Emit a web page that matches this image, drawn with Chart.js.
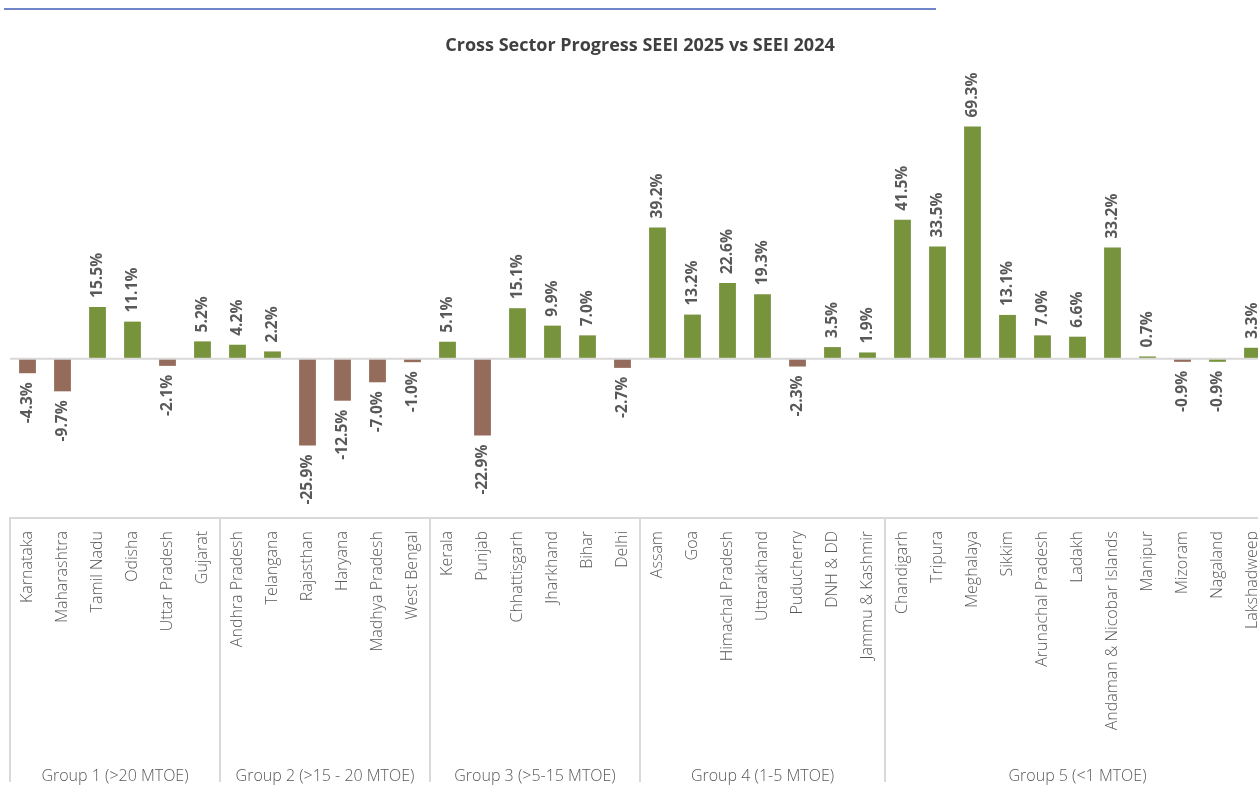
<!DOCTYPE html>
<html>
<head>
<meta charset="utf-8">
<script src="https://cdn.jsdelivr.net/npm/chart.js@4.4.1/dist/chart.umd.min.js"></script>
<style>
html, body { margin: 0; padding: 0; background: #fff; overflow: hidden; }
#topRule { position: absolute; left: 4px; top: 8px; width: 932px; height: 2px; background: #7085c8; }
#chart { position: absolute; left: 0; top: 0; }
</style>
</head>
<body>
<div id="topRule"></div>
<canvas id="chart" width="1270" height="787"></canvas>
<script>
// states in chart order, grouped by energy consumption
const states = [
    'Karnataka', 'Maharashtra', 'Tamil Nadu', 'Odisha', 'Uttar Pradesh', 'Gujarat',
    'Andhra Pradesh', 'Telangana', 'Rajasthan', 'Haryana', 'Madhya Pradesh', 'West Bengal',
    'Kerala', 'Punjab', 'Chhattisgarh', 'Jharkhand', 'Bihar', 'Delhi',
    'Assam', 'Goa', 'Himachal Pradesh', 'Uttarakhand', 'Puducherry', 'DNH & DD', 'Jammu & Kashmir',
    'Chandigarh', 'Tripura', 'Meghalaya', 'Sikkim', 'Arunachal Pradesh', 'Ladakh',
    'Andaman & Nicobar Islands', 'Manipur', 'Mizoram', 'Nagaland', 'Lakshadweep'
];

// % change SEEI 2025 vs SEEI 2024
const change = [
    -4.3, -9.7, 15.5, 11.1, -2.1, 5.2,
    4.2, 2.2, -25.9, -12.5, -7.0, -1.0,
    5.1, -22.9, 15.1, 9.9, 7.0, -2.7,
    39.2, 13.2, 22.6, 19.3, -2.3, 3.5, 1.9,
    41.5, 33.5, 69.3, 13.1, 7.0, 6.6,
    33.2, 0.7, -0.9, -0.9, 3.3
];

const groups = ['Group 1 (>20 MTOE)', 'Group 2 (>15 - 20 MTOE)', 'Group 3 (>5-15 MTOE)', 'Group 4 (1-5 MTOE)', 'Group 5 (<1 MTOE)'];
const groupSizes = [6, 6, 6, 7, 11];

// shown green in the source even though the value is negative
const greenNegatives = ['Nagaland'];

const GREEN = '#77933c';
const BROWN = '#956b5b';
const LINE = '#d9d9d9';
const TEXT = '#595959';

const barColors = change.map((v, i) =>
    (v >= 0 || greenNegatives.includes(states[i])) ? GREEN : BROWN);

const decorations = {
    id: 'decorations',
    afterDatasetsDraw(chart) {
        const { ctx, chartArea, scales: { x, y } } = chart;
        ctx.save();

        // zero line
        const zeroY = y.getPixelForValue(0);
        ctx.strokeStyle = LINE;
        ctx.lineWidth = 2;
        ctx.beginPath();
        ctx.moveTo(chartArea.left, zeroY);
        ctx.lineTo(chartArea.right, zeroY);
        ctx.stroke();

        // value labels
        ctx.font = 'bold 15.5px "Open Sans"';
        ctx.fillStyle = TEXT;
        ctx.textBaseline = 'middle';
        chart.getDatasetMeta(0).data.forEach((bar, i) => {
            const v = change[i];
            ctx.save();
            ctx.translate(bar.x, v >= 0 ? bar.y - 9 : bar.y + 9);
            ctx.rotate(-Math.PI / 2);
            ctx.textAlign = v >= 0 ? 'left' : 'right';
            ctx.fillText(v.toFixed(1) + '%', 0, 0);
            ctx.restore();
        });

        // group boxes under the axis
        const edge = i => x.getPixelForValue(i - 0.5);
        const bottom = 782;
        ctx.font = '300 16px "Open Sans"';
        ctx.textAlign = 'center';
        ctx.beginPath();
        ctx.moveTo(edge(0), x.top);
        ctx.lineTo(edge(0), bottom);
        let start = 0;
        groups.forEach((g, gi) => {
            const end = start + groupSizes[gi];
            const xe = edge(end);
            ctx.moveTo(xe, x.top);
            ctx.lineTo(xe, bottom);
            ctx.fillText(g, (edge(start) + xe) / 2, 776);
            start = end;
        });
        ctx.stroke();
        ctx.restore();
    }
};

new Chart(document.getElementById('chart'), {
    type: 'bar',
    data: {
        labels: states,
        datasets: [{
            data: change,
            backgroundColor: barColors,
            barPercentage: 0.48,
            categoryPercentage: 1
        }]
    },
    options: {
        responsive: false,
        animation: false,
        layout: { padding: { left: 10, right: 0, top: 0, bottom: 0 } },
        plugins: {
            legend: { display: false },
            tooltip: { enabled: false },
            title: {
                display: true,
                text: 'Cross Sector Progress SEEI 2025 vs SEEI 2024',
                color: '#404040',
                font: { family: 'Open Sans', size: 18, weight: 'bold' },
                padding: { top: 35, bottom: 23.4 }
            }
        },
        scales: {
            x: {
                grid: { display: false, drawTicks: false },
                border: { display: true, color: LINE, width: 2 },
                ticks: {
                    autoSkip: false,
                    minRotation: 90,
                    maxRotation: 90,
                    padding: 13,
                    color: TEXT,
                    font: { family: 'Open Sans', size: 16, weight: '300' }
                },
                afterFit: scale => {
                    scale.height = 269;
                    scale.paddingLeft = 0;
                    scale.paddingRight = 0;
                }
            },
            y: {
                min: -47.5,
                max: 83.2,
                grid: { display: false, drawTicks: false },
                border: { display: false },
                ticks: { display: false },
                afterFit: scale => { scale.width = 0; }
            }
        }
    },
    plugins: [decorations]
});
</script>
</body>
</html>
